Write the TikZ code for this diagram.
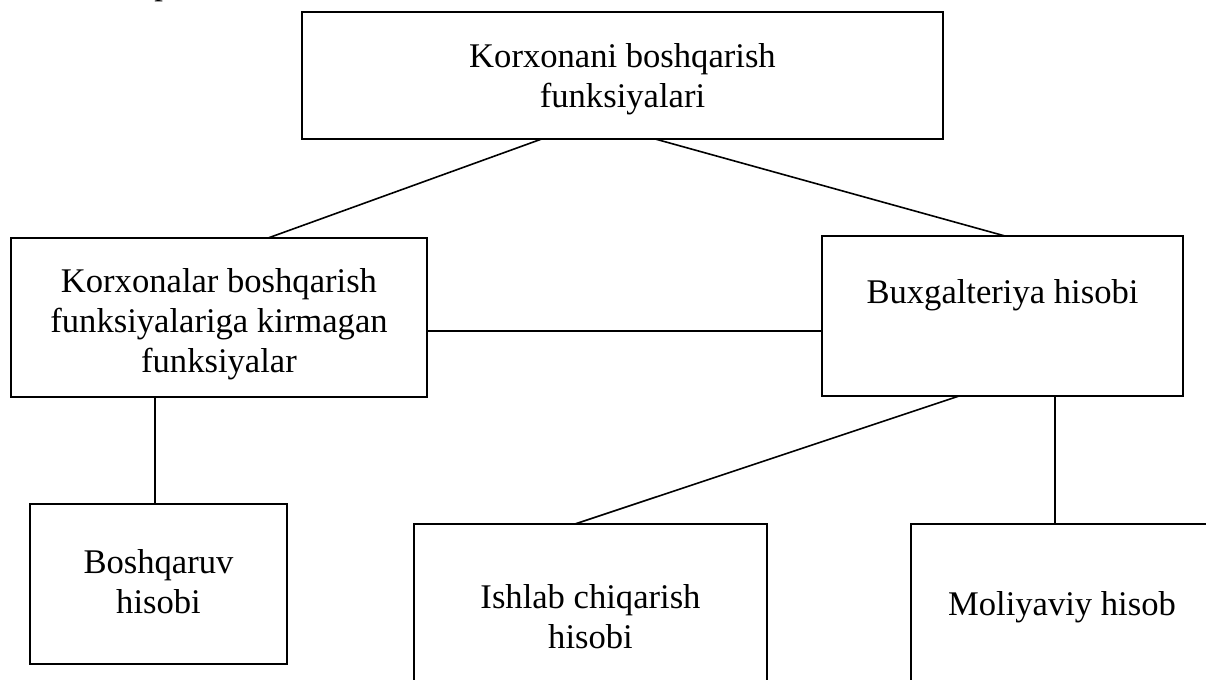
\documentclass[tikz,border=0pt]{standalone}
\usepackage{fontspec}
\setmainfont{Liberation Serif}
\usetikzlibrary{calc}
\begin{document}
\begin{tikzpicture}[x=0.5pt,y=-0.5pt,
  box/.style={draw, line width=0.95pt, inner xsep=0pt, inner ysep=0pt,
    outer sep=0pt, anchor=north, font=\fontsize{17.3pt}{20pt}\selectfont},
  link/.style={line width=0.8pt}]
  % page frame
  \useasboundingbox (0,0) rectangle (1206,680);
  \fill[white] (0,0) rectangle (1206,680);
  \clip (0,0) rectangle (1206,680);

  % tail of the heading line above the chart
  \node[anchor=base west, inner sep=0pt, font=\fontsize{17.3pt}{20pt}\selectfont]
    (headtail) at (154,-5) {p};

  % boxes
  \node[box, minimum width=320.5pt, text height=28pt, text depth=35.5pt]
    (top) at (622.5,12)
    {\begin{tabular}[t]{@{}c@{}}Korxonani boshqarish\\funksiyalari\end{tabular}};
  \node[box, minimum width=208pt, text height=27pt, text depth=52.5pt]
    (out) at (219,238)
    {\begin{tabular}[t]{@{}c@{}}Korxonalar boshqarish\\funksiyalariga kirmagan\\funksiyalar\end{tabular}};
  \node[box, minimum width=180.5pt, text height=33.5pt, text depth=46.5pt]
    (bux) at (1002.5,236) {Buxgalteriya hisobi};
  \node[box, minimum width=128.5pt, text height=34.5pt, text depth=45.5pt]
    (bosh) at (158.5,504)
    {\begin{tabular}[t]{@{}c@{}}Boshqaruv\\hisobi\end{tabular}};
  \node[box, minimum width=176.5pt, text height=42pt, text depth=50pt]
    (ishlab) at (590.5,524)
    {\begin{tabular}[t]{@{}c@{}}Ishlab chiqarish\\hisobi\end{tabular}};
  \node[box, minimum width=151pt, text height=45.5pt, text depth=42.5pt]
    (moliy) at (1062,524) {Moliyaviy hisob};

  % connectors
  \draw[link] ($(top.south west)!0.374!(top.south east)$)
           -- ($(out.north west)!0.618!(out.north east)$);
  \draw[link] ($(top.south west)!0.551!(top.south east)$)
           -- ($(bux.north west)!0.507!(bux.north east)$);
  \draw[link] ($(out.north east)!0.585!(out.south east)$) coordinate (oe)
           -- (oe -| bux.west);
  \draw[link] ($(bosh.north west)!0.486!(bosh.north east)$) coordinate (bn)
           -- (bn |- out.south);
  \draw[link] ($(bux.south west)!0.380!(bux.south east)$)
           -- ($(ishlab.north west)!0.456!(ishlab.north east)$);
  \draw[link] ($(bux.south west)!0.645!(bux.south east)$) coordinate (bs)
           -- (bs |- moliy.north);
\end{tikzpicture}
\end{document}
